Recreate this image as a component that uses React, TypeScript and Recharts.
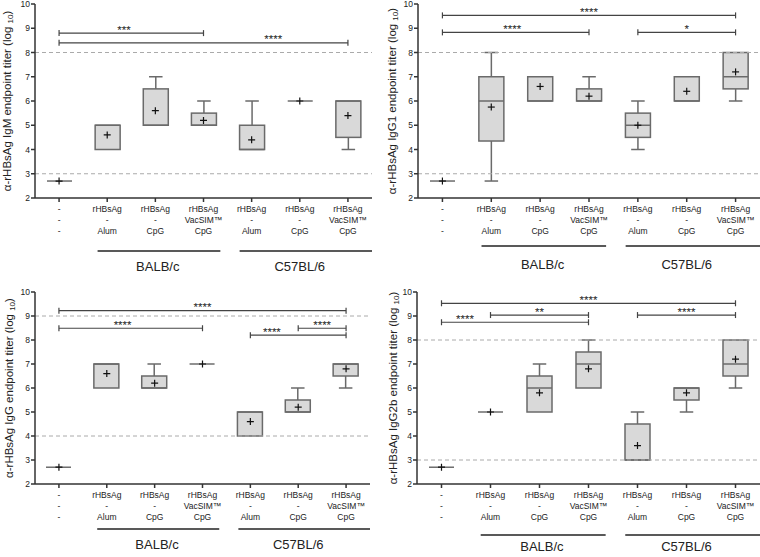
import React from "react";
import { ComposedChart, Bar, Scatter, XAxis, YAxis, ReferenceLine } from "recharts";

const FONT = "'Liberation Sans', Arial, Helvetica, sans-serif";
const Y_MIN = 2;
const Y_MAX = 10;
const yTicks = [2, 3, 4, 5, 6, 7, 8, 9, 10];

// groups on the x axis
const positions = [0, 1, 2, 3, 4, 5, 6];
const labelAntigen = ["-", "rHBsAg", "rHBsAg", "rHBsAg", "rHBsAg", "rHBsAg", "rHBsAg"];
const labelCarrier = ["-", "-", "-", "VacSIM™", "-", "-", "VacSIM™"];
const labelAdjuvant = ["-", "Alum", "CpG", "CpG", "Alum", "CpG", "CpG"];
const strainNames = ["BALB/c", "C57BL/6"];
const strainStart = [0.8, 3.75];
const strainEnd = [3.35, 6.5];
const strainLabelAt = [2.05, 5.0];

// IgM
const igmMin = [2.7, 4, 5, 5, 4, 6, 4];
const igmQ1 = [2.7, 4, 5, 5, 4, 6, 4.5];
const igmMedian = [2.7, 5, 5, 5, 4, 6, 6];
const igmQ3 = [2.7, 5, 6.5, 5.5, 5, 6, 6];
const igmMax = [2.7, 5, 7, 6, 6, 6, 6];
const igmMean = [2.7, 4.6, 5.6, 5.2, 4.4, 6, 5.4];
const igmCutoffs = [8, 3];
const igmBrackets = [
  { from: 0, to: 3, level: 8.8, stars: "***", at: 1.35 },
  { from: 0, to: 6, level: 8.4, stars: "****", at: 4.45 },
];

// IgG1
const igg1Min = [2.7, 2.7, 6, 6, 4, 6, 6];
const igg1Q1 = [2.7, 4.35, 6, 6, 4.5, 6, 6.5];
const igg1Median = [2.7, 6, 6, 6, 5, 6, 7];
const igg1Q3 = [2.7, 7, 7, 6.5, 5.5, 7, 8];
const igg1Max = [2.7, 8, 7, 7, 6, 7, 8];
const igg1Mean = [2.7, 5.75, 6.6, 6.2, 5, 6.4, 7.2];
const igg1Cutoffs = [8, 3];
const igg1Brackets = [
  { from: 0, to: 6, level: 9.53, stars: "****", at: 3 },
  { from: 0, to: 3, level: 8.83, stars: "****", at: 1.43 },
  { from: 4, to: 6, level: 8.83, stars: "*", at: 5 },
];

// IgG
const iggMin = [2.7, 6, 6, 7, 4, 5, 6];
const iggQ1 = [2.7, 6, 6, 7, 4, 5, 6.5];
const iggMedian = [2.7, 7, 6, 7, 5, 5, 7];
const iggQ3 = [2.7, 7, 6.5, 7, 5, 5.5, 7];
const iggMax = [2.7, 7, 7, 7, 5, 6, 7];
const iggMean = [2.7, 6.6, 6.2, 7, 4.6, 5.2, 6.8];
const iggCutoffs = [9, 4];
const iggBrackets = [
  { from: 0, to: 6, level: 9.22, stars: "****", at: 3 },
  { from: 0, to: 3, level: 8.49, stars: "****", at: 1.33 },
  { from: 4, to: 6, level: 8.2, stars: "****", at: 4.45 },
  { from: 5, to: 6, level: 8.49, stars: "****", at: 5.5 },
];

// IgG2b
const igg2bMin = [2.7, 5, 5, 6, 3, 5, 6];
const igg2bQ1 = [2.7, 5, 5, 6, 3, 5.5, 6.5];
const igg2bMedian = [2.7, 5, 6, 7, 3, 6, 7];
const igg2bQ3 = [2.7, 5, 6.5, 7.5, 4.5, 6, 8];
const igg2bMax = [2.7, 5, 7, 8, 5, 6, 8];
const igg2bMean = [2.7, 5, 5.8, 6.8, 3.6, 5.8, 7.2];
const igg2bCutoffs = [8, 3];
const igg2bBrackets = [
  { from: 0, to: 6, level: 9.53, stars: "****", at: 3 },
  { from: 1, to: 3, level: 9.04, stars: "**", at: 2 },
  { from: 0, to: 3, level: 8.74, stars: "****", at: 0.48 },
  { from: 4, to: 6, level: 9.04, stars: "****", at: 5 },
];

const makeRows = (min: number[], q1: number[], med: number[], q3: number[], max: number[], mean: number[]) =>
  positions.map((x, i) => ({
    x,
    span: [Y_MIN, Y_MAX],
    min: min[i],
    q1: q1[i],
    median: med[i],
    q3: q3[i],
    max: max[i],
    mean: mean[i],
  }));

// box + whiskers, positioned from the bar's [Y_MIN, Y_MAX] span
const BoxShape = (props: any) => {
  const { x, y, width, height, payload } = props;
  const top = Math.min(y, y + height);
  const h = Math.abs(height);
  const py = (v: number) => top + ((Y_MAX - v) / (Y_MAX - Y_MIN)) * h;
  const cx = x + width / 2;
  const cap = width * 0.27;
  const { min, q1, median, q3, max } = payload;
  const stroke = "#6a6a6a";
  return (
    <g>
      {max > q3 && (
        <g stroke={stroke} strokeWidth={1.5}>
          <line x1={cx} x2={cx} y1={py(q3)} y2={py(max)} />
          <line x1={cx - cap} x2={cx + cap} y1={py(max)} y2={py(max)} />
        </g>
      )}
      {min < q1 && (
        <g stroke={stroke} strokeWidth={1.5}>
          <line x1={cx} x2={cx} y1={py(q1)} y2={py(min)} />
          <line x1={cx - cap} x2={cx + cap} y1={py(min)} y2={py(min)} />
        </g>
      )}
      {q3 > q1 ? (
        <g>
          <rect x={x} y={py(q3)} width={width} height={py(q1) - py(q3)} fill="#d9d9d9" stroke={stroke} strokeWidth={1.5} />
          <line x1={x} x2={x + width} y1={py(median)} y2={py(median)} stroke={stroke} strokeWidth={1.5} />
        </g>
      ) : (
        <line x1={x} x2={x + width} y1={py(q1)} y2={py(q1)} stroke="#555" strokeWidth={1.3} />
      )}
    </g>
  );
};

const MeanMark = (props: any) => {
  const { cx, cy } = props;
  return (
    <g stroke="#111" strokeWidth={1.2}>
      <line x1={cx - 3.5} x2={cx + 3.5} y1={cy} y2={cy} />
      <line x1={cx} x2={cx} y1={cy - 3.5} y2={cy + 3.5} />
    </g>
  );
};

const bracketShape = (b: any) => (p: any) => {
  const { x1, y1, x2, y2 } = p;
  const lx = x1 + ((b.at - b.from) / (b.to - b.from)) * (x2 - x1);
  return (
    <g>
      <g stroke="#444" strokeWidth={1.2}>
        <line x1={x1} y1={y1} x2={x2} y2={y2} />
        <line x1={x1} x2={x1} y1={y1 - 3} y2={y1 + 3} />
        <line x1={x2} x2={x2} y1={y2 - 3} y2={y2 + 3} />
      </g>
      <text x={lx} y={y1 + 0.5} textAnchor="middle" fontSize={11.5} fontFamily={FONT} fill="#222">
        {b.stars}
      </text>
    </g>
  );
};

const strainShape = (name: string, from: number, to: number, at: number, drop: number) => (p: any) => {
  const { x1, y1, x2, y2 } = p;
  const lx = x1 + ((at - from) / (to - from)) * (x2 - x1);
  return (
    <g>
      <line x1={x1} y1={y1} x2={x2} y2={y2} stroke="#222" strokeWidth={1.6} />
      <text x={lx} y={y1 + drop} textAnchor="middle" fontSize={13} fontFamily={FONT} fill="#222">
        {name}
      </text>
    </g>
  );
};

const CategoryTick = (props: any) => {
  const { x, y, payload } = props;
  const i = payload.value;
  const common = { x, textAnchor: "middle" as const, fontSize: 8.5, fontFamily: FONT, fill: "#222" };
  return (
    <g>
      <text {...common} y={y + 8}>{labelAntigen[i]}</text>
      <text {...common} y={y + 19}>{labelCarrier[i]}</text>
      <text {...common} y={y + 30}>{labelAdjuvant[i]}</text>
    </g>
  );
};

const YTitle = ({ viewBox, text, offset }: any) => {
  const cx = viewBox.x + offset;
  const cy = viewBox.y + viewBox.height / 2;
  return (
    <text
      x={cx}
      y={cy}
      transform={`rotate(-90, ${cx}, ${cy})`}
      textAnchor="middle"
      fontSize={11.5}
      fontFamily={FONT}
      fill="#222"
    >
      {text} (log <tspan fontSize={8} dy={2}>10</tspan>
      <tspan dy={-2}>)</tspan>
    </text>
  );
};

type PanelProps = {
  rows: any[];
  cutoffs: number[];
  brackets: any[];
  title: string;
  left: number;
  top: number;
  width: number;
  height: number;
  marginTop: number;
  marginRight: number;
  yWidth: number;
  xHeight: number;
  titleOffset: number;
  strainDrop: number;
  strainLabelDrop: number;
};

function BoxPanel(p: PanelProps) {
  const plotHeight = p.height - p.marginTop - p.xHeight;
  const pxPerUnit = plotHeight / (Y_MAX - Y_MIN);
  const strainY = Y_MIN - p.strainDrop / pxPerUnit;
  return (
    <div style={{ position: "absolute", left: p.left, top: p.top }}>
      <ComposedChart
        width={p.width}
        height={p.height}
        data={p.rows}
        margin={{ top: p.marginTop, right: p.marginRight, left: 0, bottom: 0 }}
      >
        <XAxis
          type="number"
          dataKey="x"
          domain={[-0.5, 6.5]}
          ticks={positions}
          interval={0}
          height={p.xHeight}
          stroke="#333"
          strokeWidth={1.5}
          tickSize={4}
          tickMargin={2}
          tick={<CategoryTick />}
        />
        <YAxis
          type="number"
          domain={[Y_MIN, Y_MAX]}
          ticks={yTicks}
          interval={0}
          allowDataOverflow
          width={p.yWidth}
          stroke="#333"
          strokeWidth={1.5}
          tickSize={4}
          tickMargin={1}
          tick={{ fontSize: 8.5, fontFamily: FONT, fill: "#222" }}
          label={{ content: (lp: any) => <YTitle viewBox={lp.viewBox} text={p.title} offset={p.titleOffset} /> }}
        />
        {p.cutoffs.map((c) => (
          <ReferenceLine key={c} y={c} stroke="#aaa" strokeDasharray="4 3" strokeWidth={1} />
        ))}
        <Bar dataKey="span" barSize={25} shape={<BoxShape />} isAnimationActive={false} />
        <Scatter dataKey="mean" shape={<MeanMark />} isAnimationActive={false} />
        {p.brackets.map((b, i) => (
          <ReferenceLine
            key={"b" + i}
            segment={[
              { x: b.from, y: b.level },
              { x: b.to, y: b.level },
            ]}
            shape={bracketShape(b)}
          />
        ))}
        {strainNames.map((name, i) => (
          <ReferenceLine
            key={name}
            ifOverflow="visible"
            segment={[
              { x: strainStart[i], y: strainY },
              { x: strainEnd[i], y: strainY },
            ]}
            shape={strainShape(name, strainStart[i], strainEnd[i], strainLabelAt[i], p.strainLabelDrop)}
          />
        ))}
      </ComposedChart>
    </div>
  );
}

export default function App() {
  return (
    <div style={{ position: "absolute", left: 0, top: 0, width: 760, height: 557, background: "#fff", overflow: "hidden" }}>
      <BoxPanel
        rows={makeRows(igmMin, igmQ1, igmMedian, igmQ3, igmMax, igmMean)}
        cutoffs={igmCutoffs}
        brackets={igmBrackets}
        title="α-rHBsAg IgM endpoint titer"
        left={0}
        top={0}
        width={380}
        height={280}
        marginTop={4}
        marginRight={8}
        yWidth={35}
        xHeight={82}
        titleOffset={11}
        strainDrop={53}
        strainLabelDrop={20}
      />
      <BoxPanel
        rows={makeRows(igg1Min, igg1Q1, igg1Median, igg1Q3, igg1Max, igg1Mean)}
        cutoffs={igg1Cutoffs}
        brackets={igg1Brackets}
        title="α-rHBsAg IgG1 endpoint titer"
        left={380}
        top={0}
        width={380}
        height={280}
        marginTop={4}
        marginRight={0}
        yWidth={38}
        xHeight={82}
        titleOffset={16}
        strainDrop={48}
        strainLabelDrop={23}
      />
      <BoxPanel
        rows={makeRows(iggMin, iggQ1, iggMedian, iggQ3, iggMax, iggMean)}
        cutoffs={iggCutoffs}
        brackets={iggBrackets}
        title="α-rHBsAg IgG endpoint titer"
        left={0}
        top={280}
        width={380}
        height={277}
        marginTop={12}
        marginRight={10}
        yWidth={35}
        xHeight={73}
        titleOffset={13}
        strainDrop={45}
        strainLabelDrop={20}
      />
      <BoxPanel
        rows={makeRows(igg2bMin, igg2bQ1, igg2bMedian, igg2bQ3, igg2bMax, igg2bMean)}
        cutoffs={igg2bCutoffs}
        brackets={igg2bBrackets}
        title="α-rHBsAg IgG2b endpoint titer"
        left={380}
        top={280}
        width={380}
        height={277}
        marginTop={12}
        marginRight={0}
        yWidth={37}
        xHeight={73}
        titleOffset={17}
        strainDrop={51}
        strainLabelDrop={16}
      />
    </div>
  );
}
